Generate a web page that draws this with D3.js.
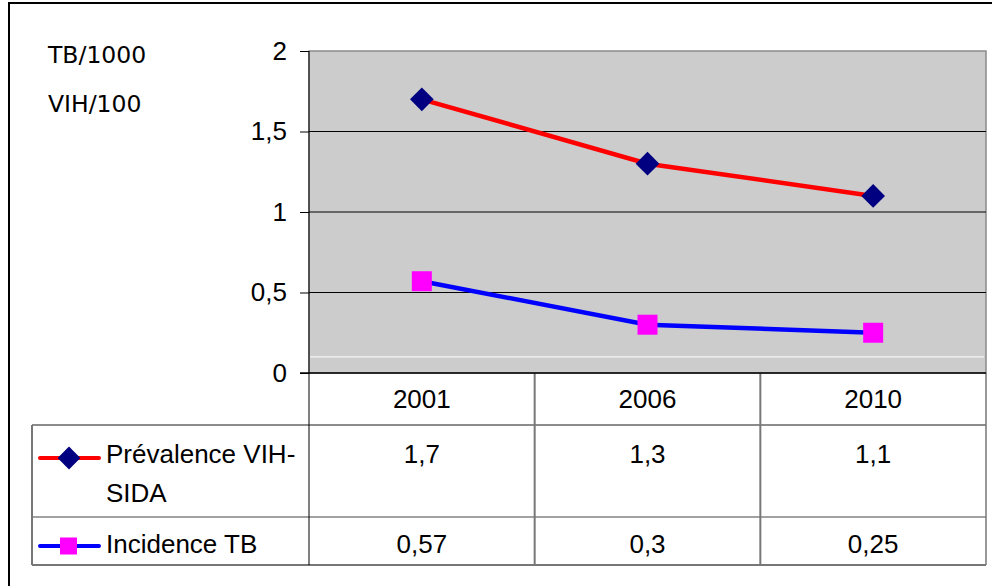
<!DOCTYPE html>
<html>
<head>
  <meta charset="utf-8">
  <title>VIH / TB</title>
  <style>
    body { margin: 0; background: #fff; }
    svg { display: block; }
  </style>
  <script src="https://d3js.org/d3.v7.min.js"></script>
</head>
<body>
<svg width="992" height="586"></svg>
<script>
// values
const years = ["2001", "2006", "2010"];
const prevalence = [1.7, 1.3, 1.1];     // Prévalence VIH-SIDA
const incidence = [0.57, 0.3, 0.25];    // Incidence TB
const yTicks = [0, 0.5, 1, 1.5, 2];
const seriesNames = [["Prévalence VIH-", "SIDA"], ["Incidence TB"]];
const unitLabels = ["TB/1000", "VIH/100"];

const fr = d3.formatLocale({decimal: ",", thousands: " ", grouping: [3], currency: ["", "€"]});
const fmt = fr.format("~g");

const font = "'Liberation Sans', Arial, sans-serif";
const svg = d3.select("svg");

// plot box
const pLeft = 309, pRight = 986, pTop = 51, pBottom = 373;
const rowEdges = [373, 425, 517, 565];

const x = d3.scaleBand().domain(years).range([pLeft, pRight]);
const y = d3.scaleLinear().domain([0, 2]).range([pBottom, pTop]);

// outer frame
svg.append("rect")
  .attr("x", 9).attr("y", 3).attr("width", 990).attr("height", 600)
  .attr("fill", "none").attr("stroke", "#000").attr("stroke-width", 2);

// grey plot area
svg.append("rect")
  .attr("x", pLeft).attr("y", pTop).attr("width", pRight - pLeft).attr("height", pBottom - pTop)
  .attr("fill", "#cccccc").attr("stroke", "#8a8a8a").attr("stroke-width", 1.5);

// stray white line in the plot
svg.append("line")
  .attr("x1", pLeft + 1).attr("x2", pRight - 2)
  .attr("y1", y(0.1)).attr("y2", y(0.1))
  .attr("stroke", "#fff").attr("stroke-width", 1);

// gridlines + ticks
const yAxis = svg.append("g")
  .attr("transform", `translate(${pLeft},0)`)
  .call(d3.axisLeft(y).tickValues(yTicks).tickSize(9).tickPadding(13).tickFormat(fmt));
yAxis.select(".domain").remove();
yAxis.selectAll("line").attr("stroke", "#000");
yAxis.selectAll("text")
  .style("font-family", font).style("font-size", "26px").attr("fill", "#000");

svg.append("g").selectAll("line")
  .data(yTicks.filter(d => d > 0 && d < 2))
  .join("line")
  .attr("x1", pLeft).attr("x2", pRight)
  .attr("y1", d => y(d)).attr("y2", d => y(d))
  .attr("stroke", "#000").attr("stroke-width", 1);

// unit labels
svg.append("g").selectAll("text")
  .data(unitLabels)
  .join("text")
  .attr("x", 48).attr("y", (d, i) => 63 + i * 49)
  .style("font-family", "'DejaVu Sans', Verdana, sans-serif")
  .style("font-size", "23.5px")
  .text(d => d);

// data table
const tbl = svg.append("g");
// horizontal rules
tbl.append("line").attr("x1", pLeft).attr("x2", pRight).attr("y1", rowEdges[1]).attr("y2", rowEdges[1])
  .attr("stroke", "#666").attr("stroke-width", 1.5);
tbl.append("line").attr("x1", 32).attr("x2", pLeft).attr("y1", rowEdges[1]).attr("y2", rowEdges[1])
  .attr("stroke", "#666").attr("stroke-width", 1.5);
tbl.append("line").attr("x1", 32).attr("x2", pRight).attr("y1", rowEdges[2]).attr("y2", rowEdges[2])
  .attr("stroke", "#444").attr("stroke-width", 1);
tbl.append("line").attr("x1", 32).attr("x2", pRight).attr("y1", rowEdges[3]).attr("y2", rowEdges[3])
  .attr("stroke", "#777").attr("stroke-width", 2);
tbl.append("line").attr("x1", 32).attr("x2", 32).attr("y1", rowEdges[1]).attr("y2", rowEdges[3])
  .attr("stroke", "#777").attr("stroke-width", 2);
// vertical rules between years
tbl.selectAll("line.v")
  .data(years.slice(1))
  .join("line").attr("class", "v")
  .attr("x1", d => x(d)).attr("x2", d => x(d))
  .attr("y1", pBottom).attr("y2", rowEdges[3])
  .attr("stroke", "#777").attr("stroke-width", 2);
tbl.append("line").attr("x1", pRight).attr("x2", pRight).attr("y1", pBottom).attr("y2", rowEdges[3])
  .attr("stroke", "#777").attr("stroke-width", 1.5);
tbl.append("line").attr("x1", pLeft).attr("x2", pLeft).attr("y1", pTop).attr("y2", rowEdges[3])
  .attr("stroke", "#000").attr("stroke-width", 1);

// x axis line
svg.append("line").attr("x1", pLeft - 9).attr("x2", pRight).attr("y1", pBottom).attr("y2", pBottom)
  .attr("stroke", "#000").attr("stroke-width", 1.5);

// header years
tbl.selectAll("text.yr")
  .data(years)
  .join("text").attr("class", "yr")
  .attr("x", d => x(d) + x.bandwidth() / 2)
  .attr("y", 408)
  .attr("text-anchor", "middle")
  .style("font-family", font).style("font-size", "26px")
  .text(d => d);

// value rows
const rows = [
  {values: prevalence, baseline: 463},
  {values: incidence, baseline: 553}
];
rows.forEach(r => {
  tbl.append("g").selectAll("text")
    .data(r.values)
    .join("text")
    .attr("x", (d, i) => x(years[i]) + x.bandwidth() / 2)
    .attr("y", r.baseline)
    .attr("text-anchor", "middle")
    .style("font-family", font).style("font-size", "26px")
    .text(d => fmt(d));
});

// legend labels in the first column
const legendY = [458, 546];
const lineColors = ["#ff0000", "#0000ff"];
seriesNames.forEach((lines, s) => {
  lines.forEach((t, k) => {
    svg.append("text")
      .attr("x", 106).attr("y", (s === 0 ? 463 : 553) + k * 39)
      .style("font-family", font).style("font-size", "26px")
      .text(t);
  });
  svg.append("line")
    .attr("x1", 40).attr("x2", 99).attr("y1", legendY[s]).attr("y2", legendY[s])
    .attr("stroke", lineColors[s]).attr("stroke-width", 4).attr("stroke-linecap", "round");
});

const diamond = d3.symbol().type(d3.symbolSquare).size(260);
// legend markers
svg.append("path").attr("d", diamond)
  .attr("transform", `translate(69,${legendY[0]}) rotate(45)`)
  .attr("fill", "#000080");
svg.append("rect").attr("x", 60).attr("y", legendY[1] - 8.5).attr("width", 17).attr("height", 17)
  .attr("fill", "#ff00ff");

// series lines
const line = d3.line()
  .x((d, i) => x(years[i]) + x.bandwidth() / 2)
  .y(d => y(d));

svg.append("path").datum(prevalence)
  .attr("d", line).attr("fill", "none").attr("stroke", "#ff0000").attr("stroke-width", 4.5);
svg.append("path").datum(incidence)
  .attr("d", line).attr("fill", "none").attr("stroke", "#0000ff").attr("stroke-width", 4.5);

// markers
svg.append("g").selectAll("path")
  .data(prevalence)
  .join("path")
  .attr("d", d3.symbol().type(d3.symbolSquare).size(280))
  .attr("transform", (d, i) => `translate(${x(years[i]) + x.bandwidth() / 2},${y(d)}) rotate(45)`)
  .attr("fill", "#000080");

svg.append("g").selectAll("rect")
  .data(incidence)
  .join("rect")
  .attr("x", (d, i) => x(years[i]) + x.bandwidth() / 2 - 10)
  .attr("y", d => y(d) - 10)
  .attr("width", 20).attr("height", 20)
  .attr("fill", "#ff00ff");
</script>
</body>
</html>
